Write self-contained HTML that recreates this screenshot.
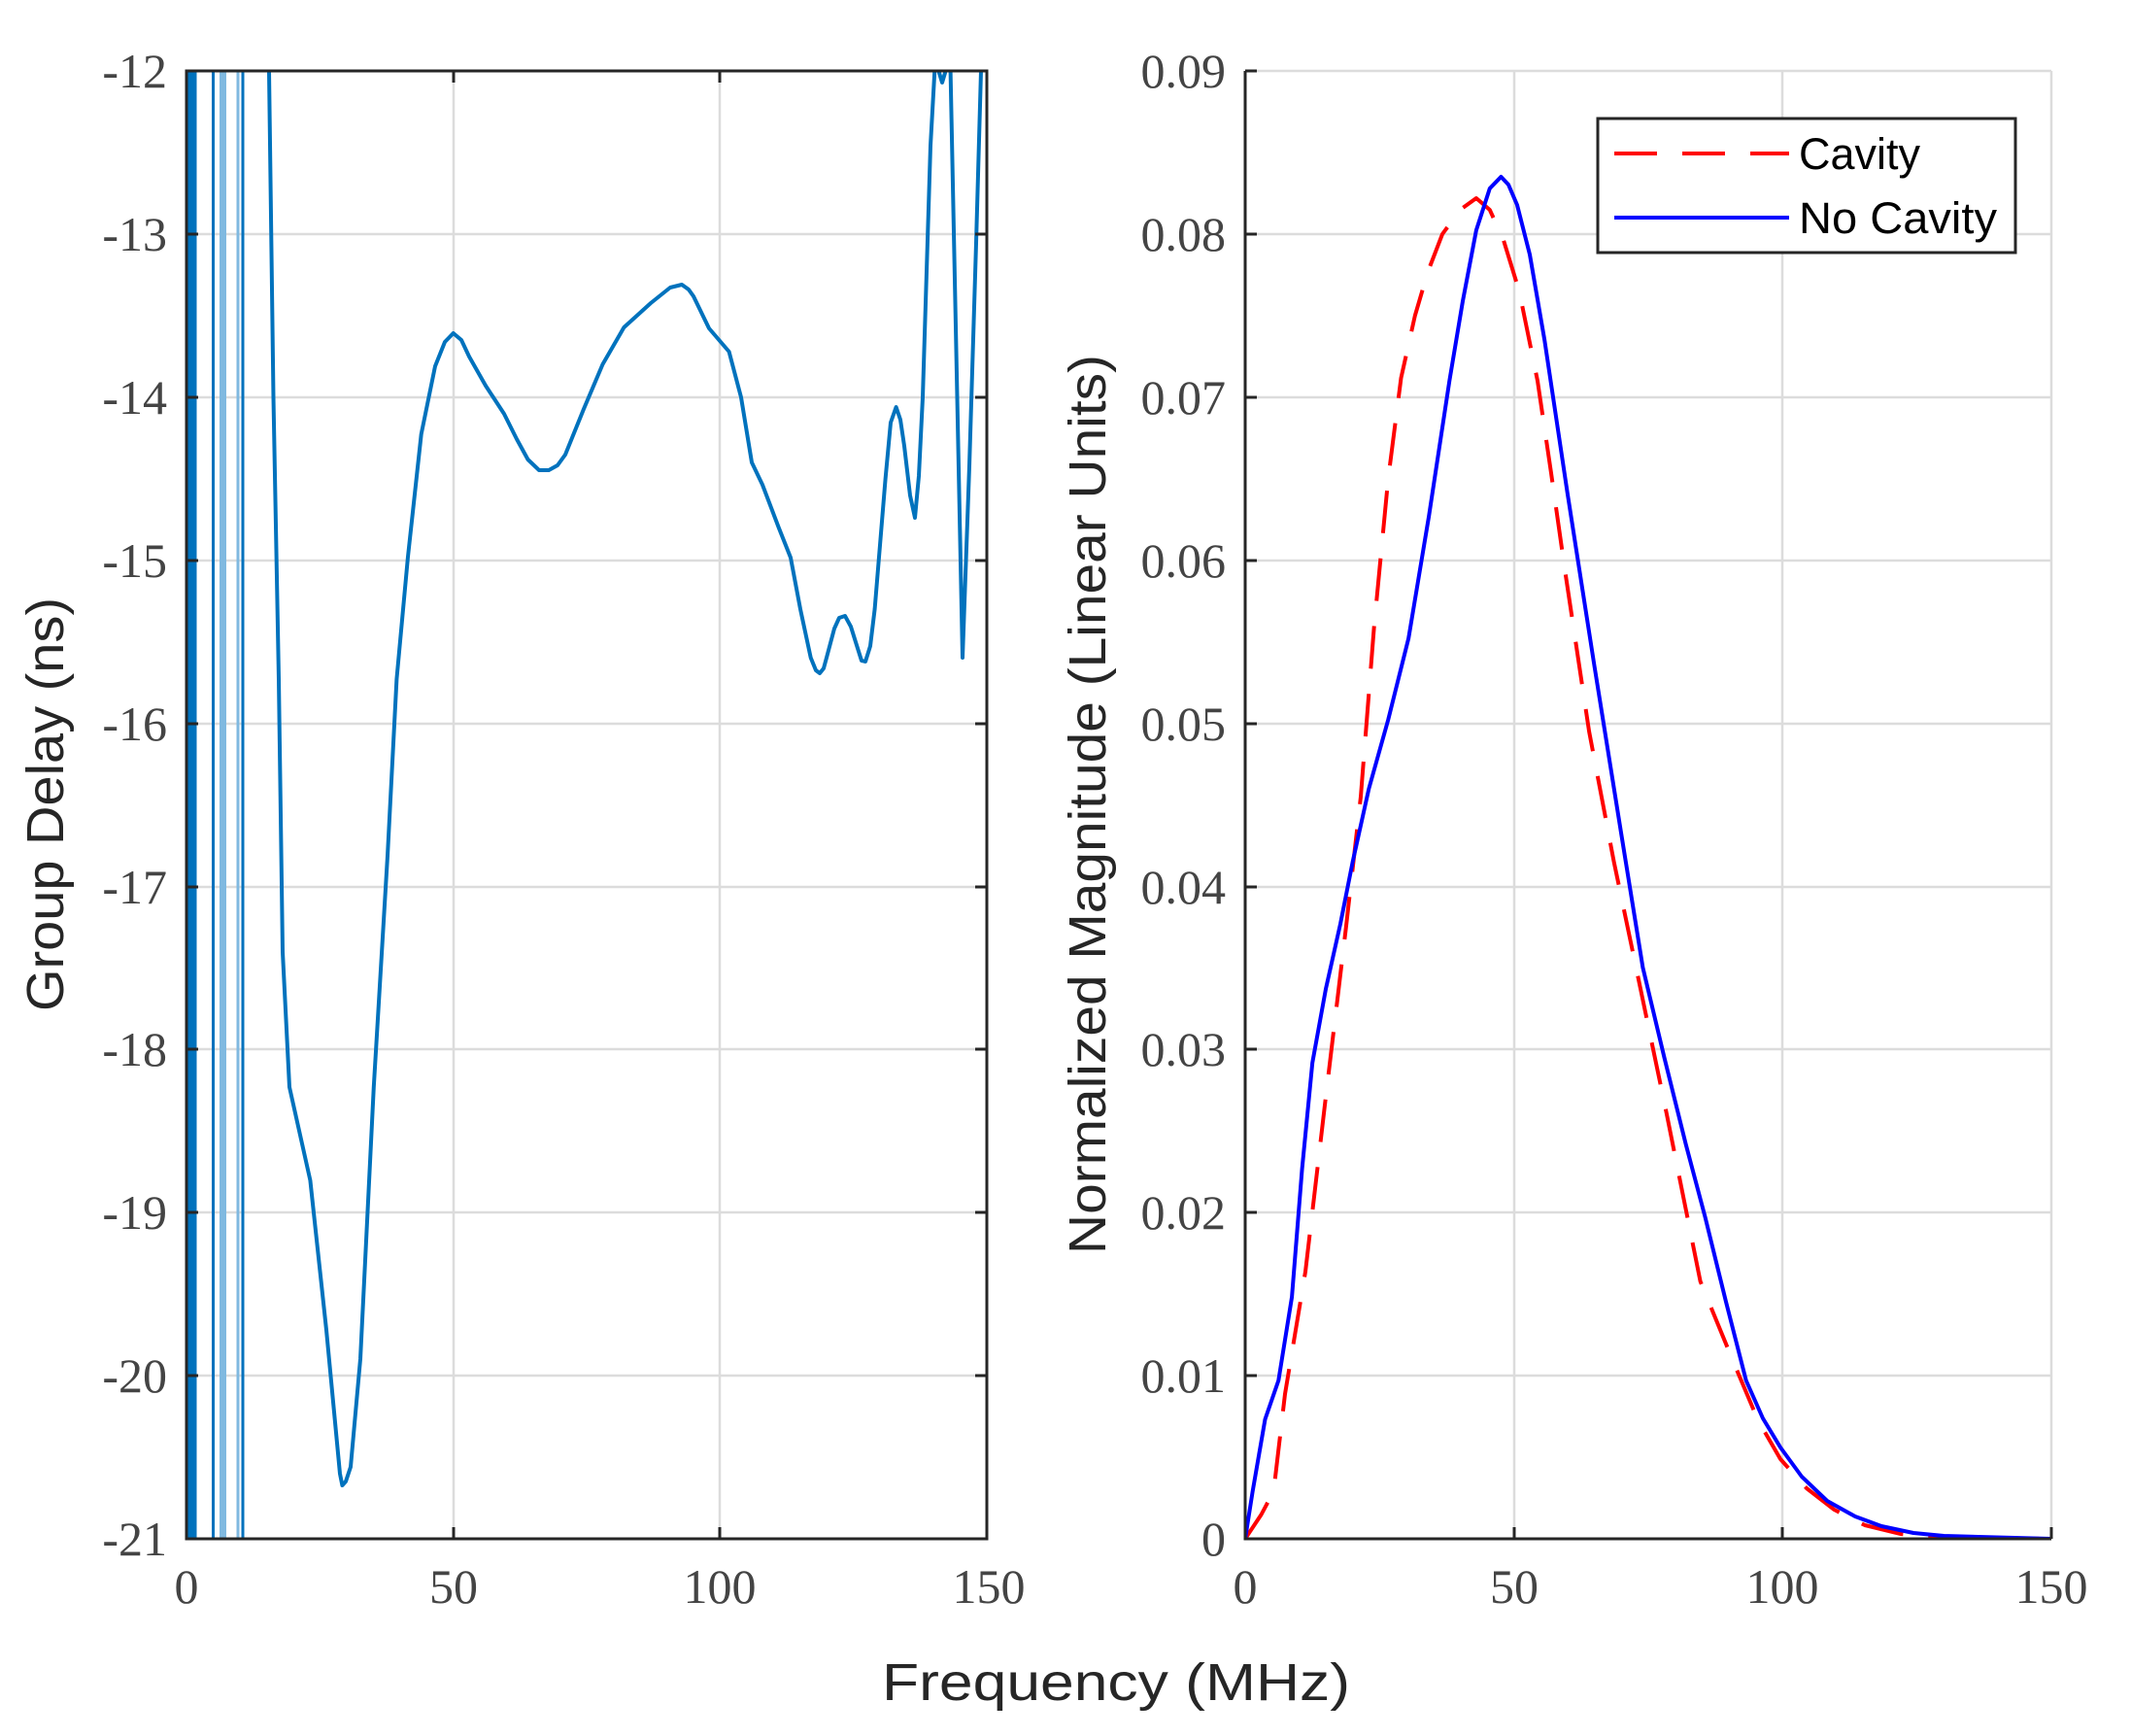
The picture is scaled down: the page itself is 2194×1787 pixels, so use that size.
<!DOCTYPE html>
<html><head><meta charset="utf-8"><style>
html,body{margin:0;padding:0;background:#fff;}
svg{display:block;}
.tk{font-family:"Liberation Serif",serif;font-size:50px;fill:#444;}
.lb{font-family:"Liberation Sans",sans-serif;font-size:54px;fill:#262626;}
.lg{font-family:"Liberation Sans",sans-serif;font-size:45px;fill:#000;}
</style></head><body>
<svg width="2194" height="1787" viewBox="0 0 2194 1787" xmlns="http://www.w3.org/2000/svg">
<defs>
<clipPath id="c1"><rect x="192" y="73" width="824" height="1511"/></clipPath>
<clipPath id="c2"><rect x="1282" y="73" width="830" height="1511"/></clipPath>
</defs>
<rect width="2194" height="1787" fill="#fff"/>
<g stroke="#dcdcdc" stroke-width="2.5">
<line x1="192" x2="1016" y1="241" y2="241"/><line x1="192" x2="1016" y1="409" y2="409"/>
<line x1="192" x2="1016" y1="577" y2="577"/><line x1="192" x2="1016" y1="745" y2="745"/>
<line x1="192" x2="1016" y1="913" y2="913"/><line x1="192" x2="1016" y1="1080" y2="1080"/>
<line x1="192" x2="1016" y1="1248" y2="1248"/><line x1="192" x2="1016" y1="1416" y2="1416"/>
<line x1="467" x2="467" y1="73" y2="1584"/><line x1="741" x2="741" y1="73" y2="1584"/>
</g>
<g clip-path="url(#c1)" fill="none" stroke-linejoin="round">
<line x1="198" x2="198" y1="73" y2="1584" stroke="#0072bd" stroke-width="9"/>
<line x1="219.5" x2="219.5" y1="73" y2="1584" stroke="#0072bd" stroke-width="3"/>
<line x1="229.5" x2="229.5" y1="73" y2="1584" stroke="#80b9e0" stroke-width="7"/>
<line x1="245" x2="245" y1="73" y2="1584" stroke="#80b9e0" stroke-width="3"/>
<line x1="250" x2="250" y1="73" y2="1584" stroke="#0072bd" stroke-width="3"/>
<polyline stroke="#0072bd" stroke-width="4" points="277,60 277,73 281.5,409 287,699 291,980 298,1119 319.4,1215 336,1369 350,1517 352.4,1529 356,1525 361,1510 371,1399 384.8,1119 399,881 408.4,699 420,573 433.7,447 448,377 458,352 466.7,343 475,350 483,367 500,397 519,426 532,452 543.5,473 555,484 565,484 574,479 582,468 601,421 620.5,375 642.4,337 670,312 690,296 702,293 709,298 714,305 730,338 750.6,362 763,409 774,476 785,499 801.7,543 814,574 824,627 834.7,677 840,690 844,693 848,688 851,677 859,647 864,636 870,634 876,645 881,661 887,680 891,681 896,665 900.6,627 911.6,493 917,435 922.6,419 927,432 931,459 937,510 942,533 946,490 950,409 958,150 963,60 967,75 970,85 973,75 976,55 978.6,73 991,677 998,480 1005,250 1010,73 1013,0"/>
</g>
<g stroke="#262626" stroke-width="3" fill="none">
<rect x="192" y="73" width="824" height="1511"/>
<path d="M192,241h12M192,409h12M192,577h12M192,745h12M192,913h12M192,1080h12M192,1248h12M192,1416h12M1016,241h-12M1016,409h-12M1016,577h-12M1016,745h-12M1016,913h-12M1016,1080h-12M1016,1248h-12M1016,1416h-12M467,73v12M741,73v12M467,1584v-12M741,1584v-12"/>
</g>
<g class="tk" text-anchor="end">
<text x="172" y="90">-12</text><text x="172" y="258">-13</text><text x="172" y="426">-14</text>
<text x="172" y="594">-15</text><text x="172" y="762">-16</text><text x="172" y="930">-17</text>
<text x="172" y="1097">-18</text><text x="172" y="1265">-19</text><text x="172" y="1433">-20</text>
<text x="172" y="1601">-21</text>
</g>
<g class="tk" text-anchor="middle">
<text x="192" y="1650">0</text><text x="467" y="1650">50</text><text x="741" y="1650">100</text><text x="1018" y="1650">150</text>
</g>
<text class="lb" transform="translate(65,828) rotate(-90)" text-anchor="middle" textLength="426" lengthAdjust="spacingAndGlyphs">Group Delay (ns)</text>

<g stroke="#dcdcdc" stroke-width="2.5">
<line x1="1282" x2="2112" y1="73" y2="73"/><line x1="1282" x2="2112" y1="241" y2="241"/>
<line x1="1282" x2="2112" y1="409" y2="409"/><line x1="1282" x2="2112" y1="577" y2="577"/>
<line x1="1282" x2="2112" y1="745" y2="745"/><line x1="1282" x2="2112" y1="913" y2="913"/>
<line x1="1282" x2="2112" y1="1080" y2="1080"/><line x1="1282" x2="2112" y1="1248" y2="1248"/>
<line x1="1282" x2="2112" y1="1416" y2="1416"/>
<line x1="1559" x2="1559" y1="73" y2="1584"/><line x1="1835" x2="1835" y1="73" y2="1584"/>
<line x1="2112" x2="2112" y1="73" y2="1584"/>
</g>
<g clip-path="url(#c2)" fill="none" stroke-linejoin="round">
<polyline stroke="#ff0000" stroke-width="4" stroke-dasharray="44,26" points="1282,1584 1298.6,1559 1311.3,1535 1323,1435 1344,1309 1365,1129 1386,953 1401,820 1414.8,644 1429.2,493 1442.5,389 1456.8,325 1470,280 1485,241 1503.3,216 1519.9,204 1533.8,216 1547.6,246 1564.2,300 1583,392 1597,487 1611.2,587 1636.1,753 1661.6,887 1685.9,1003 1715.8,1146 1750.6,1319 1785.5,1404 1810,1462 1833.1,1502 1860,1532 1888.4,1554 1920,1570 1957,1579 2000,1583 2112,1584"/>
<polyline stroke="#0000ff" stroke-width="4" points="1282,1584 1289.7,1535 1302.5,1461 1316.3,1421 1330.1,1335 1340.6,1203 1351.2,1094 1365,1018 1380,951 1392.7,887 1409.3,812 1429.2,741 1450.2,657 1471.2,531 1492.3,392 1506,310 1519.9,237 1533.8,194 1545.4,182 1553,190 1562,211 1575,262 1590.2,350 1614,509 1641.6,686 1669.3,859 1691.4,996 1713.6,1089 1735.7,1178 1755.6,1253 1777,1340 1797.7,1421 1815,1460 1833.1,1490 1855,1520 1881.2,1545 1910,1561 1937.1,1571 1970,1578 2001.3,1581 2112,1584"/>
</g>
<g stroke="#262626" stroke-width="3" fill="none">
<path d="M1282,73V1584H2112"/>
<path d="M1282,241h12M1282,409h12M1282,577h12M1282,745h12M1282,913h12M1282,1080h12M1282,1248h12M1282,1416h12M1282,73h12M1559,1584v-12M1835,1584v-12M2112,1584v-12"/>
</g>
<g class="tk" text-anchor="end">
<text x="1262" y="90">0.09</text><text x="1262" y="258">0.08</text><text x="1262" y="426">0.07</text>
<text x="1262" y="594">0.06</text><text x="1262" y="762">0.05</text><text x="1262" y="930">0.04</text>
<text x="1262" y="1097">0.03</text><text x="1262" y="1265">0.02</text><text x="1262" y="1433">0.01</text>
<text x="1262" y="1601">0</text>
</g>
<g class="tk" text-anchor="middle">
<text x="1282" y="1650">0</text><text x="1559" y="1650">50</text><text x="1835" y="1650">100</text><text x="2112" y="1650">150</text>
</g>
<text class="lb" transform="translate(1138,828) rotate(-90)" text-anchor="middle" textLength="926" lengthAdjust="spacingAndGlyphs">Normalized Magnitude (Linear Units)</text>

<rect x="1645" y="122" width="430" height="138" fill="#fff" stroke="#262626" stroke-width="3"/>
<line x1="1662" x2="1842" y1="158" y2="158" stroke="#ff0000" stroke-width="4" stroke-dasharray="44,26"/>
<line x1="1662" x2="1842" y1="224" y2="224" stroke="#0000ff" stroke-width="4"/>
<text class="lg" x="1852" y="174">Cavity</text>
<text class="lg" x="1852" y="240" textLength="204" lengthAdjust="spacingAndGlyphs">No Cavity</text>

<text class="lb" x="1149" y="1750" text-anchor="middle" textLength="482" lengthAdjust="spacingAndGlyphs">Frequency (MHz)</text>
</svg>
</body></html>
